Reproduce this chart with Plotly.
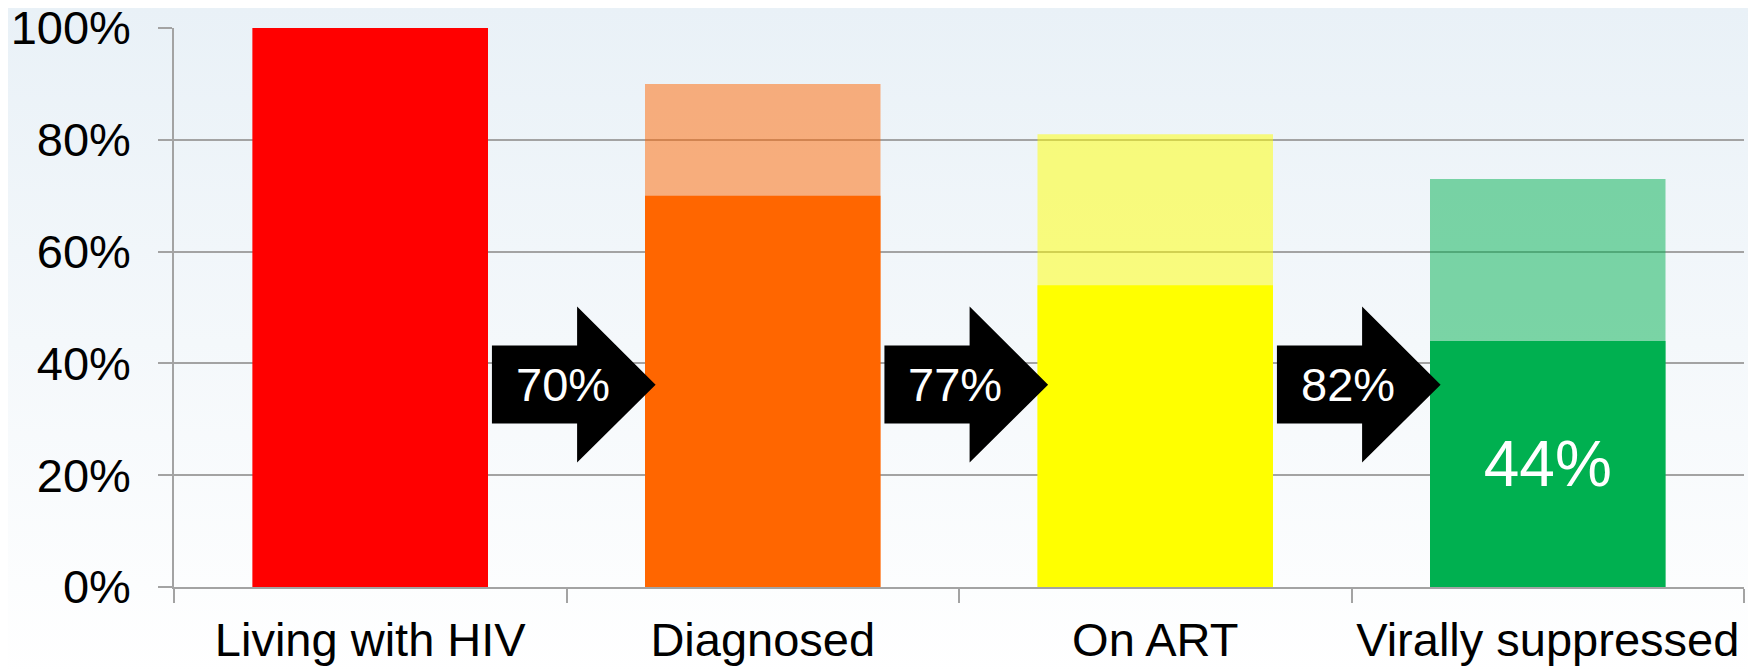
import base64
import plotly.graph_objects as go

# ---- data ----
categories = ["Living with HIV", "Diagnosed", "On ART", "Virally suppressed"]
target_values = [1.00, 0.90, 0.81, 0.73]      # pale (semi-transparent) bars
actual_values = [1.00, 0.70, 0.54, 0.44]      # solid bars
step_labels = ["70%", "77%", "82%"]           # conversion between stages
bar_colors = ["#FF0000", "#FF6600", "#FFFF00", "#00B050"]
y_tick_values = [0, 0.2, 0.4, 0.6, 0.8, 1.0]

x_pos = list(range(len(categories)))
boundaries = [i - 0.5 for i in range(len(categories) + 1)]

FONT = "Arial, Liberation Sans, sans-serif"
GRID = "#A3A3A3"

fig = go.Figure()

fig.add_trace(go.Bar(
    x=x_pos, y=target_values, width=0.6,
    marker=dict(color=bar_colors, opacity=0.5, line=dict(width=0)),
    hoverinfo="skip", showlegend=False,
))

last_label = ["" for _ in actual_values[:-1]] + [f"{actual_values[-1]*100:.0f}%"]
fig.add_trace(go.Bar(
    x=x_pos, y=actual_values, width=0.6,
    marker=dict(color=bar_colors, line=dict(width=0)),
    text=last_label, textposition="inside", insidetextanchor="middle",
    textangle=0, textfont=dict(family=FONT, size=64, color="white"),
    hoverinfo="skip", showlegend=False,
))

# arrows between stages
head_top, shaft_top, mid, shaft_bot, head_bot = 0.502, 0.432, 0.362, 0.2925, 0.2227
shapes = []
annotations = []
for i, lab in enumerate(step_labels):
    xa, xs, xt = i + 0.31, i + 0.527, i + 0.727
    path = (f"M {xa},{shaft_bot} L {xa},{shaft_top} L {xs},{shaft_top} L {xs},{head_top} "
            f"L {xt},{mid} L {xs},{head_bot} L {xs},{shaft_bot} Z")
    shapes.append(dict(type="path", xref="x", yref="y", path=path,
                       fillcolor="black", line=dict(width=0), layer="above"))
    annotations.append(dict(x=i + 0.49, y=mid, xref="x", yref="y", text=lab,
                            showarrow=False, font=dict(family=FONT, size=47, color="white")))

# gradient background image
svg = ("<svg xmlns='http://www.w3.org/2000/svg' width='100' height='100' preserveAspectRatio='none'>"
       "<defs><linearGradient id='g' x1='0' y1='0' x2='0' y2='1'>"
       "<stop offset='0' stop-color='#E9F1F7'/><stop offset='1' stop-color='#FFFFFF'/>"
       "</linearGradient></defs><rect width='100' height='100' fill='url(#g)'/></svg>")
src = "data:image/svg+xml;base64," + base64.b64encode(svg.encode()).decode()

W, H = 1756, 669
L, R, T, B = 166, 20, 20, 90
pw, ph = W - L - R, H - T - B

fig.update_layout(
    width=W, height=H,
    margin=dict(l=L, r=R, t=T, b=B, autoexpand=False),
    barmode="overlay",
    paper_bgcolor="white",
    plot_bgcolor="rgba(0,0,0,0)",
    font=dict(family=FONT, size=47, color="black"),
    shapes=shapes,
    annotations=annotations,
    images=[dict(source=src, xref="paper", yref="paper",
                 x=-L / pw, y=(ph + T) / ph, sizex=W / pw, sizey=H / ph,
                 xanchor="left", yanchor="top", sizing="stretch", layer="below")],
    xaxis=dict(
        range=[-0.5, len(categories) - 0.5],
        tickvals=x_pos, ticktext=categories, ticks="",
        showline=True, linecolor=GRID, linewidth=1.5,
        showgrid=False, zeroline=False, automargin=False,
        ticklabelstandoff=11, ticklabeloverflow="allow",
        tickfont=dict(family=FONT, size=47, color="black"),
        minor=dict(tickvals=boundaries, ticks="outside", ticklen=14,
                   tickcolor=GRID, tickwidth=1.5, showgrid=False),
        fixedrange=True,
    ),
    yaxis=dict(
        range=[0, 1], tickvals=y_tick_values, tickformat=".0%",
        ticks="outside", ticklen=14, tickcolor=GRID, tickwidth=1.5,
        showline=True, linecolor=GRID, linewidth=1.5,
        showgrid=True, gridcolor=GRID, gridwidth=1.5,
        zeroline=False, automargin=False,
        ticklabelstandoff=18, ticklabeloverflow="allow",
        tickfont=dict(family=FONT, size=47, color="black"),
        fixedrange=True,
    ),
)

fig.write_html("out.html")
